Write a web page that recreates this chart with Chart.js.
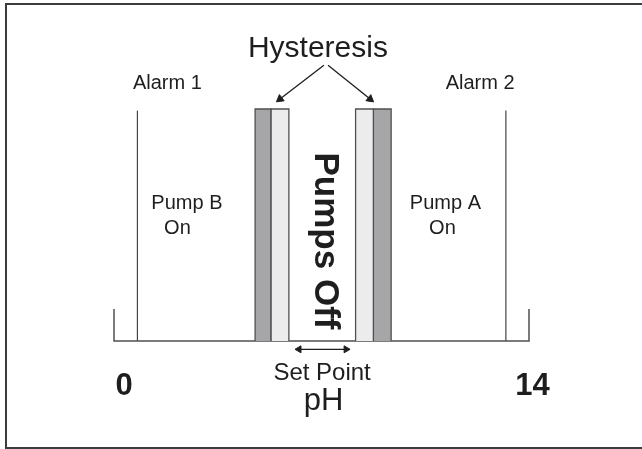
<!DOCTYPE html>
<html lang="en">
<head>
  <meta charset="UTF-8" />
  <title>pH Control Zones</title>
  <style>
    html, body { margin: 0; background: #fff; overflow: hidden; }
    #wrap { position: relative; width: 642px; height: 449px; overflow: hidden; }
    #frame {
      position: absolute; left: 5px; top: 3px;
      width: 700px; height: 442px;
      border: 2px solid #3c3c3c; border-right: none;
    }
    #phChart { position: absolute; left: 0; top: 0; }
  </style>
</head>
<body>
  <div id="wrap">
    <div id="frame"></div>
    <canvas id="phChart" width="642" height="449"></canvas>
  </div>

  <script src="https://cdn.jsdelivr.net/npm/chart.js"></script>
  <script>
    // pH scale and zone edges
    const phRange = [0, 14];
    const tickLabels = ['0', '14'];
    const tickPos = [0.34, 14.12];
    const alarmPH = [0.79, 13.22];
    const alarmHeight = 7.2;
    const endTickHeight = 1;
    // dark / light hysteresis bands, left then right
    const darkBands = [[4.76, 5.30], [8.75, 9.35]];
    const lightBands = [[5.30, 5.90], [8.15, 8.75]];
    const bandHeight = 7.25;
    // hysteresis arrows: start point -> tip
    const hystArrows = [
      [[7.08, 8.62], [5.6, 7.56]],
      [[7.22, 8.62], [8.64, 7.56]]
    ];
    const setPointArrow = [6.24, 7.83];
    const setPointLevel = -0.26;

    const ink = '#1e1e1e';
    const edge = '#505050';

    function rect(a, b, h) {
      return [{x: a, y: 0}, {x: a, y: h}, {x: b, y: h}, {x: b, y: 0}];
    }

    function headRotation(c) {
      const data = c.dataset.data;
      const i = c.dataIndex;
      const j = i === 0 ? 1 : i - 1;
      const xs = c.chart.scales.x, ys = c.chart.scales.y;
      const dx = xs.getPixelForValue(data[i].x) - xs.getPixelForValue(data[j].x);
      const dy = ys.getPixelForValue(data[i].y) - ys.getPixelForValue(data[j].y);
      return Math.atan2(dy, dx) * 180 / Math.PI + 90;
    }

    const datasets = [];

    lightBands.forEach(b => datasets.push({
      data: rect(b[0], b[1], bandHeight),
      borderColor: edge, borderWidth: 1.3,
      backgroundColor: '#ececec', fill: 'origin', pointRadius: 0
    }));
    darkBands.forEach(b => datasets.push({
      data: rect(b[0], b[1], bandHeight),
      borderColor: edge, borderWidth: 1.3,
      backgroundColor: '#a6a6a9', fill: 'origin', pointRadius: 0
    }));

    // base line with end ticks
    datasets.push({
      data: [
        {x: phRange[0], y: endTickHeight}, {x: phRange[0], y: 0},
        {x: phRange[1], y: 0}, {x: phRange[1], y: endTickHeight}
      ],
      borderColor: edge, borderWidth: 1.5, pointRadius: 0, fill: false
    });

    alarmPH.forEach(p => datasets.push({
      data: [{x: p, y: 0}, {x: p, y: alarmHeight}],
      borderColor: '#444', borderWidth: 1.2, pointRadius: 0, fill: false
    }));

    hystArrows.forEach(a => datasets.push({
      data: [{x: a[0][0], y: a[0][1]}, {x: a[1][0], y: a[1][1]}],
      borderColor: ink, borderWidth: 1.3, fill: false,
      pointStyle: 'triangle', pointRadius: [0, 4.5],
      pointBackgroundColor: ink, pointBorderColor: ink, pointBorderWidth: 1,
      pointRotation: headRotation
    }));

    datasets.push({
      data: [{x: setPointArrow[0], y: setPointLevel}, {x: setPointArrow[1], y: setPointLevel}],
      borderColor: ink, borderWidth: 1.3, fill: false,
      pointStyle: 'triangle', pointRadius: 4,
      pointBackgroundColor: ink, pointBorderColor: ink, pointBorderWidth: 1,
      pointRotation: headRotation
    });

    datasets.forEach(d => { d.clip = false; d.tension = 0; });

    // text labels, placed in pH / height units
    const labels = [
      {text: 'Hysteresis', x: 6.88, y: 8.875, font: '30px "Liberation Sans"'},
      {text: 'Alarm 1', x: 1.80, y: 7.875, font: '20px "Liberation Sans"'},
      {text: 'Alarm 2', x: 12.35, y: 7.875, font: '20px "Liberation Sans"'},
      {text: 'Pump B', x: 2.46, y: 4.125, font: '20px "Liberation Sans"'},
      {text: 'On', x: 2.14, y: 3.34, font: '20px "Liberation Sans"'},
      {text: 'Pump A', x: 11.18, y: 4.125, font: '20px "Liberation Sans"'},
      {text: 'On', x: 11.08, y: 3.34, font: '20px "Liberation Sans"'},
      {text: 'Set Point', x: 7.02, y: -1.22, font: '24px "Liberation Sans"'},
      {text: 'pH', x: 7.07, y: -2.16, font: '31px "Liberation Sans"'}
    ];
    const offLabel = {text: 'Pumps Off', x: 6.78, y: 3.125, font: 'bold 35px "Liberation Sans"'};

    const textPlugin = {
      id: 'textPlugin',
      afterDatasetsDraw(chart) {
        const ctx = chart.ctx;
        const xs = chart.scales.x, ys = chart.scales.y;
        ctx.save();
        ctx.fillStyle = ink;
        ctx.textAlign = 'center';
        ctx.textBaseline = 'alphabetic';
        labels.forEach(l => {
          ctx.font = l.font;
          ctx.fillText(l.text, xs.getPixelForValue(l.x), ys.getPixelForValue(l.y));
        });
        ctx.font = 'bold 31px "Liberation Sans"';
        tickLabels.forEach((t, i) => {
          ctx.fillText(t, xs.getPixelForValue(tickPos[i]), ys.getPixelForValue(-1.69));
        });
        // rotated label between the bands
        ctx.translate(xs.getPixelForValue(offLabel.x), ys.getPixelForValue(offLabel.y));
        ctx.rotate(Math.PI / 2);
        ctx.font = offLabel.font;
        ctx.fillText(offLabel.text, 0, 0);
        ctx.restore();
      }
    };

    new Chart(document.getElementById('phChart'), {
      type: 'line',
      data: { datasets: datasets },
      options: {
        responsive: false,
        animation: false,
        events: [],
        layout: { autoPadding: false, padding: { left: 114, right: 113, top: 21, bottom: 12 } },
        scales: {
          x: { type: 'linear', min: phRange[0], max: phRange[1], display: false },
          y: { min: -3, max: 10, display: false }
        },
        plugins: { legend: { display: false }, tooltip: { enabled: false } }
      },
      plugins: [textPlugin]
    });
  </script>
</body>
</html>
